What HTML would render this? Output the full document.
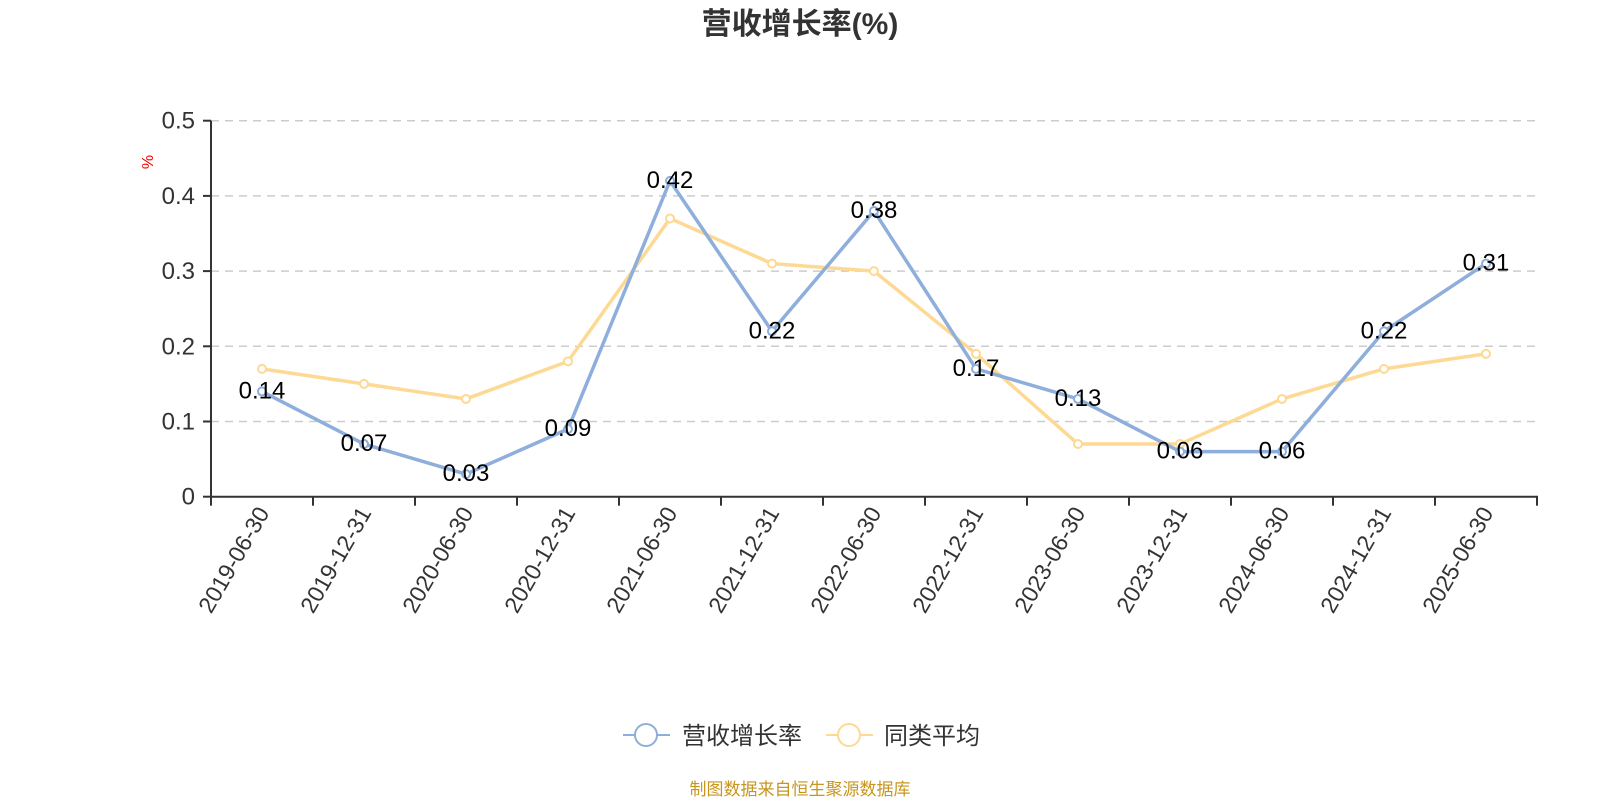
<!DOCTYPE html>
<html><head><meta charset="utf-8"><style>
body{margin:0;background:#fff;font-family:"Liberation Sans","Noto Sans CJK SC",sans-serif}
svg text{font-family:"Liberation Sans","Noto Sans CJK SC",sans-serif}
</style></head><body>
<svg id="c" width="1600" height="800">
<text x="800" y="34" text-anchor="middle" font-size="30" font-weight="bold" fill="#333">营收增长率(%)</text>
<text x="0" y="0" transform="translate(153,162) rotate(-90)" text-anchor="middle" font-size="16" fill="#f00">%</text>
<g id="grid"></g><g id="axes"></g><g id="series"></g>
<g>
<g><line x1="623" y1="735" x2="670" y2="735" stroke="#8eaedb" stroke-width="2"/><circle cx="646" cy="735" r="11" fill="#fff" stroke="#8eaedb" stroke-width="2"/><text x="682" y="744" font-size="24" fill="#333">营收增长率</text></g>
<g><line x1="826" y1="735" x2="873" y2="735" stroke="#fdd994" stroke-width="2"/><circle cx="849" cy="735" r="11" fill="#fff" stroke="#fdd994" stroke-width="2"/><text x="884" y="744" font-size="24" fill="#333">同类平均</text></g>
</g>
<text x="800" y="795" text-anchor="middle" font-size="17" fill="#c8961e">制图数据来自恒生聚源数据库</text>
</svg>
<script>
const categories=["2019-06-30","2019-12-31","2020-06-30","2020-12-31","2021-06-30","2021-12-31","2022-06-30","2022-12-31","2023-06-30","2023-12-31","2024-06-30","2024-12-31","2025-06-30"];
const revenueGrowth=[0.14,0.07,0.03,0.09,0.42,0.22,0.38,0.17,0.13,0.06,0.06,0.22,0.31];
const peerAverage=[0.17,0.15,0.13,0.18,0.37,0.31,0.30,0.19,0.07,0.07,0.13,0.17,0.19];
const yTicks=[0,0.1,0.2,0.3,0.4,0.5];
const NS="http://www.w3.org/2000/svg";
const L=211,R=1537,T=120.7,B=496.7,yMax=0.5;
const bw=(R-L)/categories.length;
const x=i=>L+bw*(i+0.5);
const y=v=>B-(v/yMax)*(B-T);
function mk(p,t,a){const e=document.createElementNS(NS,t);for(const k in a)e.setAttribute(k,a[k]);p.appendChild(e);return e;}
const grid=document.getElementById('grid'),axes=document.getElementById('axes'),ser=document.getElementById('series');
yTicks.forEach(v=>{
 if(v>0){const g=mk(grid,'line',{x1:L,x2:R,y1:y(v),y2:y(v),stroke:'#ccc','stroke-dasharray':'8,6','stroke-width':1.5});
 
 }
 mk(axes,'line',{x1:L-8,x2:L,y1:y(v),y2:y(v),stroke:'#333','stroke-width':2});
 const t=mk(axes,'text',{x:L-16,y:y(v)+8,'text-anchor':'end','font-size':24,fill:'#333'});t.textContent=v;
 
 
});
mk(axes,'line',{x1:L,x2:L,y1:T,y2:B+1,stroke:'#333','stroke-width':2});
mk(axes,'line',{x1:L-1,x2:R+1,y1:B,y2:B,stroke:'#333','stroke-width':2});
for(let i=0;i<=categories.length;i++)mk(axes,'line',{x1:L+bw*i,x2:L+bw*i,y1:B,y2:B+9,stroke:'#333','stroke-width':2});
categories.forEach((c,i)=>{
 const t=mk(axes,'text',{transform:`translate(${x(i)+8},${B+16}) rotate(-60)`,'text-anchor':'end','font-size':23,fill:'#333'});t.textContent=c;
 
 
});
function series(vals,color,name,labels){
 const g=mk(ser,'g',{});
 
 
 mk(g,'polyline',{points:vals.map((v,i)=>x(i)+','+y(v)).join(' '),fill:'none',stroke:color,'stroke-width':3.5,'stroke-linejoin':'round'});
 vals.forEach((v,i)=>{
  const p=mk(g,'circle',{cx:x(i),cy:y(v),r:4,fill:'#fff',stroke:color,'stroke-width':2});
  
  
  if(labels){const t=mk(g,'text',{x:x(i),y:y(v)+7,'text-anchor':'middle','font-size':24,fill:'#000'});t.textContent=v;
  
  }
 });
}
series(peerAverage,'#fdd994','peer-average-line',false);
series(revenueGrowth,'#8eaedb','revenue-growth-line',true);
</script>
</body></html>
